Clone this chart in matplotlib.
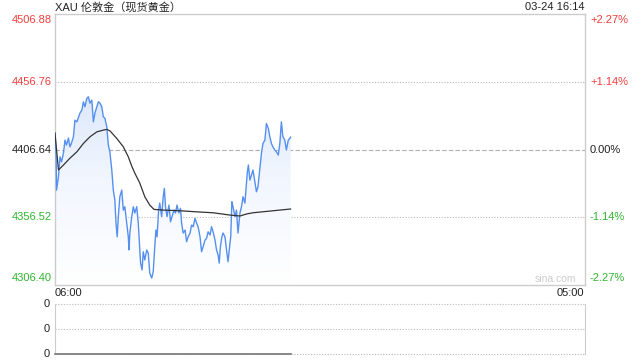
import numpy as np
import matplotlib
matplotlib.use("Agg")
import matplotlib.pyplot as plt
from matplotlib.colors import LinearSegmentedColormap
from matplotlib.transforms import blended_transform_factory

plt.rcParams['font.family'] = ['Liberation Sans', 'Noto Sans CJK SC', 'DejaVu Sans']

title = "XAU 伦敦金（现货黄金）"
stamp = "03-24 16:14"
prev_close = 4406.64
y_ticks = [4506.88, 4456.76, 4406.64, 4356.52, 4306.40]
pct_labels = ["+2.27%", "+1.14%", "0.00%", "-1.14%", "-2.27%"]
x_labels = ["06:00", "05:00"]
session_minutes = 1380  # 06:00 -> 05:00 next day

# minutes since 06:00
price_t = [0, 3, 4, 9, 13, 17, 22, 26, 30, 35, 39, 43, 48, 52, 57, 65, 70, 74, 78, 83,
           87, 91, 96, 100, 104, 109, 113, 117, 122, 126, 130, 135, 139, 143, 148, 152, 156, 159, 162, 165,
           169, 174, 178, 182, 187, 191, 193, 195, 200, 204, 208, 213, 217, 220, 223, 227, 230, 234, 239, 243,
           247, 252, 256, 260, 263, 266, 270, 273, 278, 282, 285, 288, 292, 297, 301, 305, 310, 314, 318, 323,
           327, 330, 334, 339, 343, 347, 352, 356, 360, 365, 369, 373, 378, 382, 386, 391, 395, 399, 404, 408,
           412, 417, 421, 425, 428, 431, 435, 438, 443, 447, 451, 456, 458, 461, 464, 469, 473, 477, 482, 486,
           490, 495, 497, 501, 504, 508, 512, 516, 521, 525, 529, 534, 538, 542, 547, 551, 556, 560, 564, 568,
           573, 577, 582, 586, 590, 594, 599, 603, 608, 612, 614]
price = [4418.9, 4401.3, 4376.6, 4386.5, 4401.3, 4397.6, 4404.0, 4413.7, 4410.0, 4415.2, 4408.7, 4411.5, 4416.1, 4428.5, 4427.2, 4433.7, 4435.9, 4442.1, 4438.4, 4444.6,
         4445.8, 4441.1, 4443.3, 4427.2, 4433.7, 4438.4, 4442.1, 4441.1, 4438.4, 4430.9, 4430.0, 4423.5, 4410.0, 4405.0, 4391.5, 4376.6, 4369.2, 4352.2, 4342.0, 4356.9,
         4371.7, 4376.6, 4361.8, 4364.3, 4352.2, 4342.0, 4332.2, 4344.8, 4356.9, 4364.3, 4359.6, 4364.3, 4352.2, 4337.4, 4322.5, 4317.4, 4330.9, 4324.8, 4332.2, 4330.0,
         4315.1, 4311.4, 4316.1, 4334.6, 4347.0, 4342.0, 4361.8, 4367.0, 4356.9, 4371.7, 4377.9, 4364.3, 4356.9, 4365.5, 4353.1, 4356.9, 4361.8, 4359.6, 4365.5, 4359.6,
         4363.1, 4352.2, 4344.8, 4347.0, 4338.3, 4342.0, 4344.8, 4350.7, 4349.4, 4355.7, 4352.2, 4349.4, 4342.0, 4330.9, 4334.6, 4339.6, 4340.8, 4345.7, 4343.3, 4349.4,
         4345.7, 4339.6, 4332.2, 4328.5, 4322.5, 4334.6, 4342.0, 4344.8, 4342.0, 4332.2, 4323.5, 4337.4, 4342.0, 4368.0, 4364.3, 4356.9, 4361.8, 4344.8, 4359.6, 4364.3,
         4371.7, 4367.0, 4374.2, 4389.0, 4395.2, 4384.0, 4387.7, 4391.5, 4382.8, 4375.4, 4379.1, 4392.7, 4403.8, 4411.2, 4413.7, 4426.0, 4422.3, 4416.1, 4411.2, 4408.7,
         4406.3, 4405.0, 4402.6, 4411.2, 4427.2, 4416.1, 4413.7, 4406.3, 4413.7, 4414.9, 4415.9]

avg_t = [0, 9, 22, 39, 57, 74, 91, 109, 126, 135, 143, 161, 178, 191, 200, 208, 221, 234, 247, 258,
         282, 326, 369, 412, 456, 482, 499, 516, 614]
avg_price = [4418.9, 4391.5, 4395.2, 4400.3, 4405.0, 4411.2, 4416.1, 4419.8, 4421.1, 4421.6, 4420.6, 4414.9, 4408.7, 4401.3, 4394.4, 4389.2, 4381.8, 4371.7, 4365.5, 4362.3,
             4361.8, 4361.3, 4360.5, 4359.8, 4358.1, 4357.4, 4358.9, 4359.8, 4362.6]

volume_t = [0, 614]
volume = [0, 0]
vol_labels = ["0", "0", "0"]

W, H = 640, 360
fig = plt.figure(figsize=(6.4, 3.6), dpi=100)
fig.patch.set_facecolor('white')

L, R = 55, 584.5
T, B = 14.4, 284.8
ax = fig.add_axes([L / W, 1 - B / H, (R - L) / W, (B - T) / H])
ymin, ymax = y_ticks[-1], y_ticks[0]
ax.set_xlim(0, session_minutes)
ax.set_ylim(ymin, ymax)
ax.set_xticks([])
ax.set_yticks([])
for s in ax.spines.values():
    s.set_color('#cccccc')
    s.set_linewidth(1.0)

# grid lines
for v in y_ticks[1:-1]:
    if v == prev_close:
        ax.axhline(v, color='#b0b0b0', lw=0.8, ls=(0, (4, 2)), zorder=1)
    else:
        ax.axhline(v, color='#bbbbbb', lw=0.8, ls=(0, (1, 1.5)), zorder=1)

# gradient fill under price line
cmap = LinearSegmentedColormap.from_list('g', ['#ffffff', '#f2f6fe', '#d9e6fb'])
grad = np.linspace(0, 1, 256).reshape(-1, 1)
grad = np.clip(grad * 1.3, 0, 1)
im = ax.imshow(grad, extent=[0, session_minutes, ymin, ymax], origin='lower', aspect='auto',
               cmap=cmap, vmin=0, vmax=1, zorder=2)
poly = ax.fill_between(price_t, price, ymin, facecolor='none', edgecolor='none')
im.set_clip_path(poly.get_paths()[0], transform=ax.transData)

ax.plot(price_t, price, color='#5590f0', lw=1.0, zorder=4)
ax.plot(avg_t, avg_price, color='#333333', lw=0.9, zorder=5)

red, green, black = '#f23c3c', '#2db52d', '#222222'
cols = [red, red, black, green, green]
tr_l = blended_transform_factory(fig.transFigure, ax.transData)
offs = [-4.2, 0, 0, 0, 4.8]  # points (negative = down)
for v, lab_p, c, o in zip(y_ticks, pct_labels, cols, offs):
    ax.annotate(f"{v:.2f}", xy=(52 / W, v), xycoords=tr_l, xytext=(0, o), textcoords='offset points',
                ha='right', va='center', fontsize=8, color=c)
    ax.annotate(lab_p, xy=(590 / W, v), xycoords=tr_l, xytext=(0, o), textcoords='offset points',
                ha='left', va='center', fontsize=8, color=c)

fig.text(L / W, 1 - 7.5 / H, title, ha='left', va='center', fontsize=8, color='#222222',
         family=['Liberation Sans', 'Noto Sans CJK SC'])
fig.text(R / W, 1 - 7.5 / H, stamp, ha='right', va='center', fontsize=8, color='#222222')
fig.text(L / W, 1 - 293 / H, x_labels[0], ha='left', va='center', fontsize=8, color='#222222')
fig.text(R / W, 1 - 293 / H, x_labels[1], ha='right', va='center', fontsize=8, color='#222222')
fig.text(576 / W, 1 - 279 / H, "sina.com", ha='right', va='center', fontsize=7.5, color='#cccccc')

# volume panel
VT, VB = 304.3, 354
ax2 = fig.add_axes([L / W, 1 - VB / H, (R - L) / W, (VB - VT) / H])
ax2.set_xlim(0, session_minutes)
ax2.set_ylim(0, 2)
ax2.set_xticks([])
ax2.set_yticks([])
for k in ['top', 'bottom']:
    ax2.spines[k].set_visible(False)
for k in ['left', 'right']:
    ax2.spines[k].set_color('#cccccc')
for v in [0, 1, 2]:
    ax2.axhline(v, color='#bbbbbb', lw=0.8, ls=(0, (1, 1.5)), zorder=1, clip_on=False)
ax2.plot(volume_t, volume, color='#777777', lw=1.2, zorder=3, clip_on=False)
tr2 = blended_transform_factory(fig.transFigure, ax2.transData)
for v, lab in zip([2, 1, 0], vol_labels):
    ax2.text(50 / W, v, lab, transform=tr2, ha='right', va='center', fontsize=8, color='#222222')

fig.savefig('out.png', dpi=100, facecolor='white')
